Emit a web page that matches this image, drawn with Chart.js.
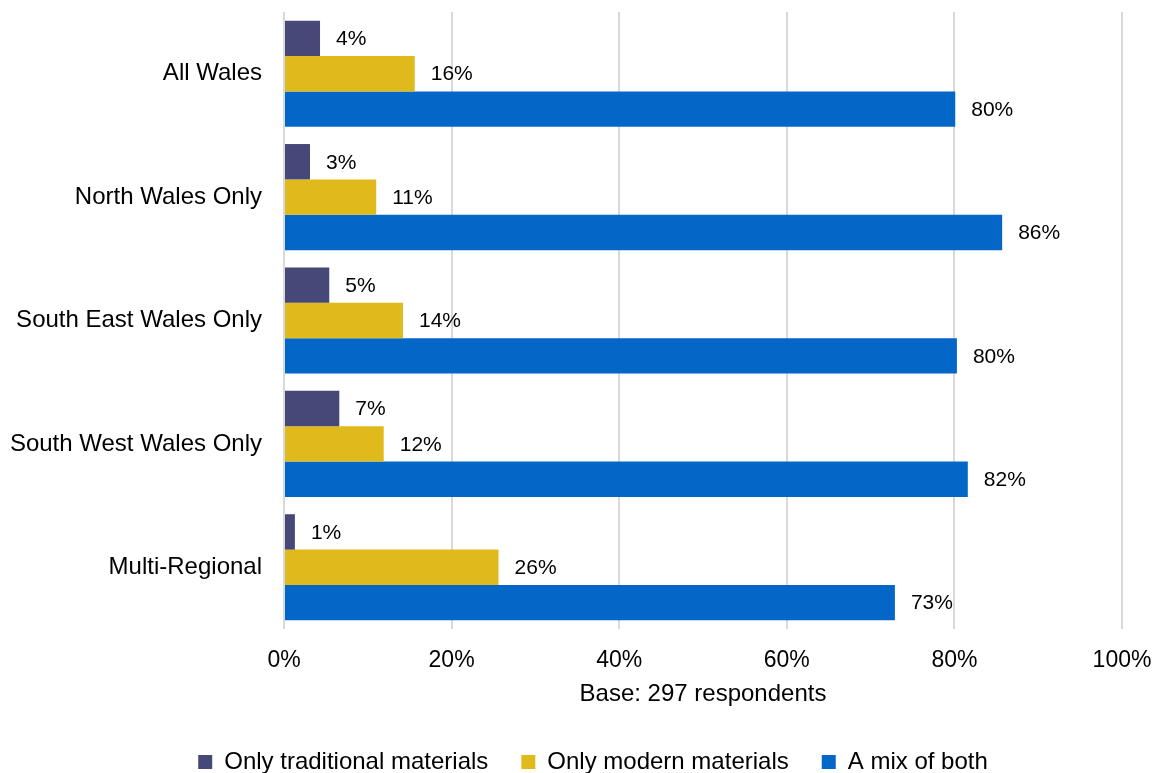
<!DOCTYPE html>
<html>
<head>
<meta charset="utf-8">
<script src="https://cdn.jsdelivr.net/npm/chart.js@4"></script>
<style>
  html, body { margin: 0; padding: 0; background: #fff; }
  #wrap { width: 1158px; height: 773px; }
</style>
</head>
<body>
<div id="wrap"><canvas id="materialsChart" width="1158" height="773"></canvas></div>
<script>
const regions = ["All Wales", "North Wales Only", "South East Wales Only", "South West Wales Only", "Multi-Regional"]
const traditional = [4.3, 3.1, 5.4, 6.6, 1.3]
const modern = [15.6, 11.0, 14.2, 11.9, 25.6]
const mixOfBoth = [80.1, 85.7, 80.3, 81.6, 72.9]
const seriesNames = ["Only traditional materials", "Only modern materials", "A mix of both"]
const axisTitle = "Base: 297 respondents"

const FONT = "'Liberation Sans', Arial, sans-serif"

// writes the % labels just past the end of each bar
const barLabels = {
  id: 'barLabels',
  afterDatasetsDraw(chart) {
    const ctx = chart.ctx
    ctx.save()
    ctx.font = "21px " + FONT
    ctx.fillStyle = "#000"
    ctx.textAlign = "left"
    ctx.textBaseline = "middle"
    chart.data.datasets.forEach((ds, i) => {
      chart.getDatasetMeta(i).data.forEach((bar, j) => {
        ctx.fillText(Math.round(ds.data[j]) + "%", bar.x + 16, bar.y + 1)
      })
    })
    ctx.restore()
  }
}

new Chart(document.getElementById('materialsChart'), {
  type: 'bar',
  data: {
    labels: regions,
    datasets: [
      { label: seriesNames[0], data: traditional, backgroundColor: "#464877" },
      { label: seriesNames[1], data: modern, backgroundColor: "#e0b91a" },
      { label: seriesNames[2], data: mixOfBoth, backgroundColor: "#0466c7" }
    ]
  },
  options: {
    indexAxis: 'y',
    responsive: false,
    animation: false,
    devicePixelRatio: 1,
    datasets: {
      bar: { barPercentage: 1, categoryPercentage: 0.86 }
    },
    // negative right padding pushes the legend's centre to the right
    layout: { padding: { top: 12, right: -28, left: 0, bottom: -11 } },
    plugins: {
      legend: {
        position: 'bottom',
        labels: {
          boxWidth: 14,
          boxHeight: 14,
          padding: 33,
          color: "#000",
          font: { family: FONT, size: 24 }
        }
      },
      tooltip: { enabled: false }
    },
    scales: {
      x: {
        min: 0,
        max: 100,
        ticks: {
          stepSize: 20,
          padding: 18,
          color: "#000",
          font: { family: FONT, size: 23 },
          callback: (v) => v + "%"
        },
        grid: { color: "#d9d9d9", lineWidth: 2, drawTicks: false },
        border: { display: false },
        title: {
          display: true,
          text: axisTitle,
          color: "#000",
          font: { family: FONT, size: 24 },
          padding: { top: -12.4, bottom: 8 }
        },
        afterFit(scale) {
          scale.paddingLeft = 0
          scale.paddingRight = 36
        }
      },
      y: {
        grid: { display: false, drawTicks: false },
        border: { display: false },
        ticks: {
          padding: 22,
          color: "#000",
          font: { family: FONT, size: 24 }
        },
        afterFit(scale) {
          scale.width = 284
          scale.paddingTop = 0
          scale.paddingBottom = 0
        }
      }
    }
  },
  plugins: [barLabels]
})
</script>
</body>
</html>
